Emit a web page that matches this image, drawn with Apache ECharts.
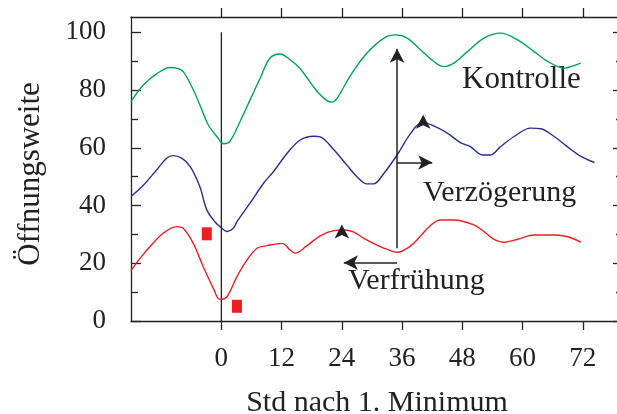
<!DOCTYPE html>
<html>
<head>
<meta charset="utf-8">
<script src="https://cdn.jsdelivr.net/npm/echarts@6/dist/echarts.min.js"></script>
<style>
  html, body { margin: 0; padding: 0; background: #fff; }
  #chart { width: 617px; height: 414px; }
</style>
</head>
<body>
<div id="chart"></div>
<script>
// Öffnungsweite over hours after the first minimum, three groups
const kontrolleHours = [-18, -15.5, -12.9, -10.2, -8.9, -7.6, -5.6, -4.3, -2.6, -0.9, 0.5, 1.7, 3.7, 5.7, 7.7, 9.7, 11.7, 13.7, 15.7, 18.4, 20.4, 22, 23, 25.7, 29, 32.4, 34.7, 37, 39.7, 42.3, 44.3, 46.3, 49, 52.3, 55.6, 59, 62.3, 65, 68.3, 69.6, 71.6];
const kontrolleValues = [76, 81.8, 85.6, 87.8, 87.6, 86.4, 80.1, 74.9, 67.9, 63.9, 61.4, 62.2, 69, 76.5, 84, 91.1, 92.5, 90.5, 87.4, 81, 77.2, 75.8, 77, 85, 92.8, 98, 99.1, 98, 93.9, 89.9, 88.1, 89.3, 93.3, 98, 99.7, 97.4, 93.3, 89.9, 87.6, 88.1, 89.3];

const verzoegerungHours = [-18, -15.5, -12.9, -10.9, -9.6, -7.9, -6.2, -4.3, -2.9, -1.3, 0.1, 1.1, 2.4, 3.1, 5.7, 8.4, 10.4, 13.1, 15.7, 18.4, 19.7, 22.4, 25, 27, 29, 30.3, 32.4, 35, 37.7, 40, 42.3, 45, 47.6, 49.6, 52, 53.6, 55.6, 58.3, 61.6, 63.6, 66.3, 68.9, 71.6, 74.3];
const verzoegerungValues = [43.1, 47.1, 52.3, 56.4, 57.3, 56.4, 53.5, 46.6, 38.5, 34.4, 32.1, 31, 32.1, 34.4, 40.8, 47.7, 51.8, 58.1, 62.7, 64, 63.8, 59.3, 54, 50, 47.5, 47.5, 51.2, 57.5, 65, 68.8, 67.6, 65.1, 61.8, 60.4, 57.5, 57.5, 60.4, 63.9, 66.8, 66.6, 63.9, 60.4, 57, 54.9];

const verfruehungHours = [-18, -16.2, -14.2, -11.6, -8.9, -7.6, -5.6, -3.6, -1.6, -0.3, 1.1, 3.1, 5.1, 7.1, 9.1, 12.1, 13.7, 14.7, 17, 19.7, 22.4, 24.4, 26.4, 28.3, 31.3, 33.7, 35, 37.7, 39.7, 41.6, 43.6, 46.3, 50.3, 52.3, 54.3, 56.3, 59, 62.3, 66.3, 69, 71.6];
const verfruehungValues = [17.5, 21.7, 25.8, 30.4, 32.7, 32.1, 26.9, 18.8, 11.3, 7.5, 8.4, 15.4, 21.1, 25.2, 26.1, 26.9, 24.6, 23.5, 26, 29.5, 31.3, 31.5, 30.8, 28.7, 26, 24.4, 23.8, 26, 29.5, 33, 35, 35, 33.3, 31, 28.3, 27.3, 28.3, 29.8, 29.8, 29.2, 27.3];

// red markers (hour, value)
const markerHours = [-2.9, 3.1];
const markerValues = [30.2, 5.1];

// small arrowheads on the curve peaks (hour, value)
const peakHours = [24, 40.2];
const peakValues = [33.4, 71.4];

// annotation arrows: [fromHour, fromValue, toHour, toValue]
const shiftArrows = [
  [35, 25.2, 35, 94.3],
  [35, 54.9, 42, 54.9],
  [35, 20.2, 24.4, 20.2]
];

const xTicks = [0, 12, 24, 36, 48, 60, 72];
const yMajorTicks = [0, 20, 40, 60, 80, 100];
const yMinorTicks = [10, 30, 50, 70, 90];

const ink = '#222';
const serif = 'Liberation Serif';

const zip = (xs, ys) => xs.map((x, i) => [x, ys[i]]);

const chart = echarts.init(document.getElementById('chart'), null, { renderer: 'canvas' });

const lineStyleBase = { width: 1.4 };
const axisLineStyle = { color: ink, width: 1.3 };

function yAxisDef(position, ticks, len, showLine, showLabel) {
  return {
    type: 'value', position: position, min: 0, max: 105.3,
    axisLine: { show: showLine, onZero: false, lineStyle: axisLineStyle },
    axisTick: { show: true, inside: true, length: len, customValues: ticks, lineStyle: axisLineStyle },
    axisLabel: showLabel ? {
      show: true, customValues: ticks, margin: 25, padding: [3, 0, 0, 0],
      fontFamily: serif, fontSize: 27, color: ink
    } : { show: false },
    splitLine: { show: false }
  };
}

chart.setOption({
  animation: false,
  backgroundColor: '#fff',
  // plot box runs a few pixels past the right edge of the canvas
  grid: { left: 131, top: 17, width: 492, height: 304, containLabel: false, outerBoundsMode: 'none' },
  xAxis: [
    {
      type: 'value', position: 'bottom', min: -18, max: 80,
      axisLine: { show: true, onZero: false, lineStyle: axisLineStyle },
      axisTick: { show: true, inside: false, length: 9, customValues: xTicks, lineStyle: axisLineStyle },
      axisLabel: { show: true, customValues: xTicks, margin: 24, fontFamily: serif, fontSize: 27, color: ink },
      splitLine: { show: false },
      name: 'Std nach 1. Minimum',
      nameLocation: 'middle',
      nameGap: 67,
      nameTextStyle: { fontFamily: serif, fontSize: 30, color: ink }
    },
    {
      type: 'value', position: 'top', min: -18, max: 80,
      axisLine: { show: true, onZero: false, lineStyle: axisLineStyle },
      axisTick: { show: true, inside: false, length: 9, customValues: xTicks, lineStyle: axisLineStyle },
      axisLabel: { show: false },
      splitLine: { show: false }
    }
  ],
  yAxis: [
    yAxisDef('left', yMajorTicks, 10, true, true),
    yAxisDef('left', yMinorTicks, 7, false, false),
    yAxisDef('right', yMajorTicks, 10, true, false),
    yAxisDef('right', yMinorTicks, 7, false, false)
  ],
  graphic: [
    {
      type: 'text', x: 31, y: 174, rotation: Math.PI / 2,
      style: { text: 'Öffnungsweite', fontFamily: serif, fontSize: 31, fill: ink, align: 'center', verticalAlign: 'middle' }
    },
    {
      type: 'text', x: 462, y: 79.5,
      style: { text: 'Kontrolle', fontFamily: serif, fontSize: 31, fill: ink, align: 'left', verticalAlign: 'middle' }
    },
    {
      type: 'text', x: 423, y: 193,
      style: { text: 'Verzögerung', fontFamily: serif, fontSize: 30, fill: ink, align: 'left', verticalAlign: 'middle' }
    },
    {
      type: 'text', x: 348, y: 281.5,
      style: { text: 'Verfrühung', fontFamily: serif, fontSize: 30, fill: ink, align: 'left', verticalAlign: 'middle' }
    }
  ],
  series: [
    {
      name: 'Kontrolle', type: 'line', smooth: 0.35, showSymbol: false,
      data: zip(kontrolleHours, kontrolleValues),
      lineStyle: Object.assign({ color: '#00a651' }, lineStyleBase),
      z: 3
    },
    {
      name: 'Verzögerung', type: 'line', smooth: 0.35, showSymbol: false,
      data: zip(verzoegerungHours, verzoegerungValues),
      lineStyle: Object.assign({ color: '#27308f' }, lineStyleBase),
      z: 3
    },
    {
      name: 'Verfrühung', type: 'line', smooth: 0.35, showSymbol: false,
      data: zip(verfruehungHours, verfruehungValues),
      lineStyle: Object.assign({ color: '#ee1d24' }, lineStyleBase),
      z: 3
    },
    {
      // reference line at the first minimum, plus the shift arrows
      name: 'Minimum', type: 'line', showSymbol: false, silent: true,
      data: [[0, 0], [0, 100]],
      lineStyle: { color: ink, width: 1.3 },
      z: 2,
      markLine: {
        silent: true,
        symbol: ['none', 'arrow'],
        symbolSize: [11, 14],
        label: { show: false },
        lineStyle: { color: ink, width: 1.5, type: 'solid' },
        emphasis: { disabled: true },
        data: shiftArrows.map(a => [{ coord: [a[0], a[1]] }, { coord: [a[2], a[3]] }])
      }
    },
    {
      name: 'Peaks', type: 'scatter', symbol: 'arrow', symbolSize: [11, 14],
      data: zip(peakHours, peakValues),
      itemStyle: { color: ink, opacity: 1 },
      silent: true, z: 4
    },
    {
      name: 'Marker', type: 'scatter', symbol: 'rect', symbolSize: [10, 13],
      data: zip(markerHours, markerValues),
      itemStyle: { color: '#ee1d24', opacity: 1 },
      silent: true, z: 4
    }
  ]
});
</script>
</body>
</html>
